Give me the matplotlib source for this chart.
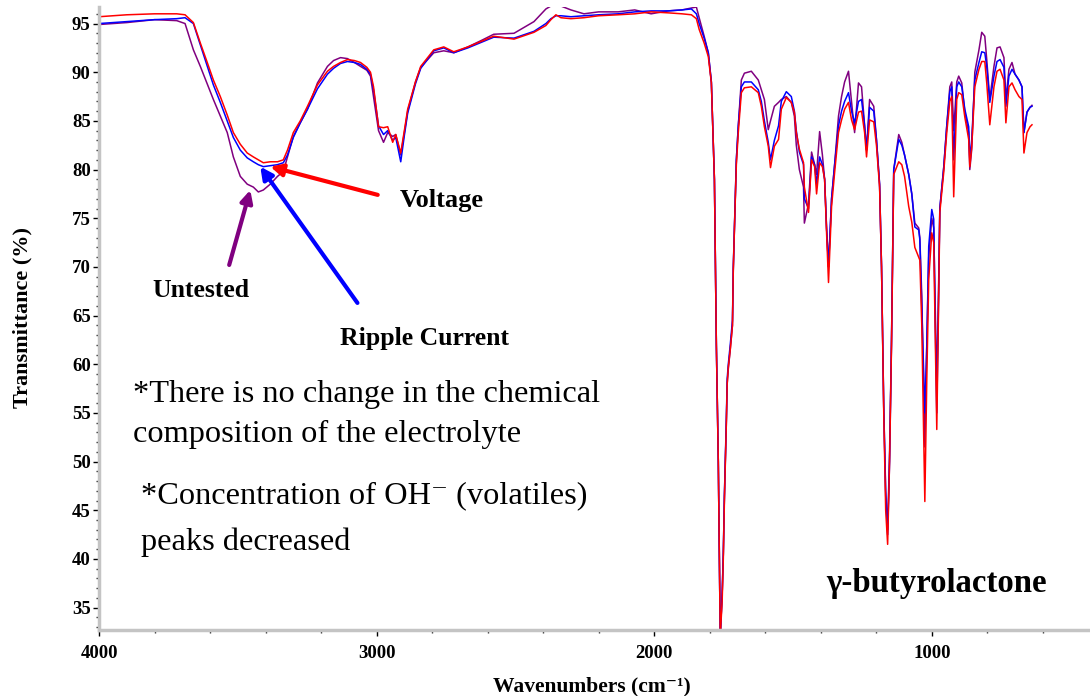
import matplotlib
matplotlib.use('Agg')
import matplotlib.pyplot as plt
from matplotlib.ticker import MultipleLocator

# ---------------- data ----------------
wavenumber = [
    4000, 3900, 3800, 3720, 3690, 3660, 3635, 3610, 3588, 3563,
    3538, 3516, 3491, 3466, 3444, 3426, 3408, 3383, 3357, 3336,
    3321, 3300, 3275, 3249, 3213, 3177, 3155, 3130, 3105, 3080,
    3058, 3035, 3022, 3011, 2993, 2975, 2960, 2942, 2931, 2913,
    2900, 2888, 2860, 2841, 2794, 2758, 2722, 2671, 2620, 2578,
    2505, 2433, 2390, 2372, 2354, 2336, 2300, 2253, 2200, 2130,
    2070, 2011, 1950, 1900, 1866, 1848, 1838, 1820, 1805, 1794,
    1783, 1776, 1769, 1765, 1762, 1755, 1751, 1747, 1740, 1737,
    1733, 1726, 1718, 1715, 1711, 1704, 1697, 1686, 1675, 1650,
    1625, 1614, 1603, 1589, 1581, 1567, 1552, 1542, 1524, 1506,
    1495, 1488, 1477, 1462, 1459, 1444, 1433, 1422, 1415, 1404,
    1394, 1386, 1379, 1372, 1361, 1350, 1336, 1325, 1314, 1300,
    1289, 1278, 1264, 1253, 1242, 1235, 1224, 1209, 1199, 1188,
    1181, 1173, 1166, 1159, 1152, 1145, 1137, 1119, 1108, 1098,
    1083, 1072, 1061, 1047, 1043, 1036, 1025, 1018, 1011, 1000,
    993, 989, 982, 976, 971, 957, 946, 935, 928, 921,
    910, 903, 892, 881, 867, 863, 856, 845, 830, 820,
    809, 802, 791, 776, 765, 754, 740, 733, 722, 711,
    700, 686, 675, 668, 657, 646, 639,
]

voltage = [
    95.7, 95.9, 96.0, 96.0, 95.9, 95.1, 93.0, 91.0, 89.2, 87.5,
    85.6, 83.8, 82.6, 81.7, 81.3, 81.0, 80.7, 80.8, 80.8, 81.0,
    82.0, 83.8, 85.0, 86.5, 88.7, 90.1, 90.6, 91.0, 91.3, 91.2,
    91.0, 90.5, 90.0, 88.5, 84.4, 84.3, 84.4, 82.8, 83.6, 81.7,
    84.0, 86.2, 89.0, 90.6, 92.3, 92.6, 92.1, 92.6, 93.2, 93.7,
    93.4, 94.1, 94.8, 95.4, 95.9, 95.6, 95.5, 95.6, 95.8, 95.9,
    96.0, 96.2, 96.1, 96.0, 95.9, 95.5, 94.4, 93.0, 91.6, 88.9,
    79.0, 62.0, 50.0, 40.0, 32.0, 35.8, 40.0, 46.0, 54.0, 58.0,
    59.7, 61.5, 64.0, 69.7, 73.8, 80.5, 83.8, 87.9, 88.4, 88.5,
    87.9, 86.5, 84.4, 82.4, 80.2, 82.4, 83.1, 86.2, 87.4, 86.9,
    85.9, 83.8, 82.1, 80.7, 78.2, 75.6, 81.0, 80.3, 77.5, 80.7,
    80.3, 79.0, 73.5, 68.4, 76.2, 79.7, 83.8, 85.1, 86.2, 86.9,
    85.1, 84.1, 85.9, 86.0, 83.8, 81.3, 85.1, 84.9, 82.4, 78.2,
    70.0, 55.0, 45.0, 41.5, 50.0, 62.0, 79.5, 80.8, 80.5, 79.3,
    76.2, 74.6, 72.0, 71.0, 70.7, 64.0, 45.9, 58.4, 68.7, 73.5,
    72.5, 65.3, 53.3, 65.0, 75.6, 79.7, 83.8, 87.0, 87.5, 77.2,
    87.2, 87.9, 87.7, 85.4, 83.1, 80.3, 82.4, 88.5, 90.3, 91.1,
    91.1, 88.9, 84.6, 88.5, 90.1, 90.3, 89.2, 84.8, 88.5, 88.9,
    88.2, 87.5, 87.2, 81.7, 83.8, 84.4, 84.6,
]

ripple_current = [
    95.0, 95.2, 95.4, 95.5, 95.6, 95.0, 92.8, 90.6, 88.7, 86.9,
    85.0, 83.3, 82.0, 81.2, 80.8, 80.5, 80.3, 80.4, 80.5, 80.7,
    81.5, 83.3, 84.8, 86.2, 88.3, 89.8, 90.4, 90.9, 91.1, 91.0,
    90.8, 90.3, 89.8, 88.2, 84.5, 83.6, 84.0, 83.0, 83.3, 80.8,
    83.5, 85.8, 88.8, 90.4, 92.2, 92.5, 92.0, 92.5, 93.1, 93.6,
    93.5, 94.2, 95.0, 95.5, 95.8, 95.8, 95.7, 95.8, 95.9, 96.0,
    96.2, 96.3, 96.3, 96.4, 96.5, 96.0, 95.0, 93.5, 92.0, 89.0,
    79.0, 62.0, 50.0, 40.0, 32.0, 36.5, 40.5, 46.5, 54.5, 58.5,
    60.0, 62.0, 64.5, 70.0, 74.0, 81.0, 84.5, 88.5, 89.0, 89.0,
    88.2, 87.0, 85.0, 82.8, 81.0, 83.0, 84.5, 87.0, 88.0, 87.5,
    86.0, 84.0, 81.8, 80.5, 77.0, 76.0, 81.3, 80.5, 78.5, 81.3,
    80.5, 79.0, 74.0, 70.0, 77.0, 80.5, 84.5, 86.0, 87.0, 87.9,
    86.0, 84.8, 87.0, 87.2, 84.5, 82.0, 86.4, 86.0, 83.0, 78.5,
    70.0, 55.5, 46.5, 42.5, 50.0, 62.5, 80.0, 83.1, 82.5, 81.5,
    79.5, 77.5, 74.1, 73.8, 72.8, 66.0, 55.0, 61.8, 72.1, 75.9,
    74.9, 67.0, 55.0, 66.0, 76.0, 80.2, 84.5, 88.0, 88.5, 81.0,
    88.5, 89.0, 88.5, 86.2, 84.4, 81.0, 83.1, 89.2, 91.0, 92.1,
    92.0, 90.6, 86.9, 89.6, 91.1, 91.3, 90.5, 86.5, 89.6, 90.3,
    89.8, 89.2, 88.5, 83.8, 85.9, 86.4, 86.5,
]

untested = [
    94.9, 95.1, 95.4, 95.3, 95.0, 92.3, 90.6, 88.8, 87.2, 85.5,
    83.8, 81.3, 79.3, 78.5, 78.2, 77.7, 77.9, 78.5, 79.3, 79.8,
    81.3, 83.4, 84.8, 86.2, 88.9, 90.6, 91.2, 91.5, 91.4, 91.0,
    90.6, 90.2, 89.6, 87.5, 84.0, 82.8, 83.8, 83.4, 83.6, 81.5,
    83.8, 86.0, 89.0, 90.5, 92.0, 92.2, 92.0, 92.6, 93.3, 93.9,
    94.0, 95.2, 96.5, 96.8, 96.8, 96.8, 96.4, 96.0, 96.2, 96.2,
    96.4, 96.0, 96.3, 96.4, 96.6, 96.7, 95.6, 93.7, 92.0, 89.0,
    79.0, 62.0, 50.0, 40.0, 32.0, 36.5, 40.5, 46.5, 54.0, 58.0,
    59.5, 61.5, 64.0, 69.7, 73.8, 81.0, 84.5, 89.2, 89.9, 90.1,
    89.2, 88.2, 87.2, 84.1, 85.0, 86.5, 86.9, 87.2, 87.5, 86.9,
    85.5, 82.5, 80.0, 78.2, 74.5, 76.5, 81.8, 80.5, 79.5, 83.9,
    81.5, 79.0, 74.0, 70.0, 77.0, 80.5, 85.5, 87.5, 89.0, 90.1,
    87.0, 83.8, 88.9, 88.5, 84.5, 82.0, 87.2, 86.5, 83.0, 78.5,
    70.0, 55.5, 47.0, 43.0, 51.0, 62.5, 80.0, 83.6, 82.8, 81.5,
    79.5, 77.5, 74.5, 74.0, 73.0, 67.0, 51.5, 62.0, 71.0, 75.0,
    74.0, 68.0, 57.7, 67.0, 76.0, 80.2, 84.5, 88.5, 89.0, 84.0,
    89.0, 89.6, 88.9, 85.9, 83.8, 80.0, 82.1, 90.0, 92.3, 94.1,
    93.7, 91.3, 87.2, 90.6, 92.5, 92.6, 91.5, 87.2, 90.3, 91.0,
    89.8, 89.2, 88.5, 83.8, 85.9, 86.4, 86.6,
]

series_names = ["Voltage", "Ripple Current", "Untested"]
x_ticks = [4000, 3000, 2000, 1000]
y_ticks = [35, 40, 45, 50, 55, 60, 65, 70, 75, 80, 85, 90, 95]

# ---------------- style ----------------
plt.rcParams['font.family'] = ['Liberation Serif', 'DejaVu Serif']
plt.rcParams['font.weight'] = 'bold'

W, H = 1090, 696
fig = plt.figure(figsize=(W / 100, H / 100), dpi=100)
ax = fig.add_axes([99 / W, 1 - 630 / H, 1 - 99 / W, (630 - 7) / H])

RED, BLUE, PURPLE = '#ff0000', '#0000ff', '#800080'
ax.plot(wavenumber, untested, color=PURPLE, lw=1.1)
ax.plot(wavenumber, ripple_current, color=BLUE, lw=1.1)
ax.plot(wavenumber, voltage, color=RED, lw=1.1)

ax.set_xlim(4000, 430)
ax.set_ylim(32.7, 96.7)

for s in ['top', 'right']:
    ax.spines[s].set_visible(False)
for s in ['left', 'bottom']:
    ax.spines[s].set_color('#c4c4c4')
    ax.spines[s].set_linewidth(2.5)

ax.set_xticks(x_ticks)
ax.set_yticks(y_ticks)
ax.xaxis.set_minor_locator(MultipleLocator(200))
ax.yaxis.set_minor_locator(MultipleLocator(1))
ax.tick_params(which='major', direction='out', length=4, width=1, color='black', labelsize=13.5)
ax.tick_params(which='minor', direction='out', length=2, width=1, color='#333333')
ax.tick_params(axis='y', which='major', pad=2)
ax.tick_params(axis='x', which='major', pad=7)

def ftext(px, py, s, **kw):
    fig.text(px / W, 1 - py / H, s, **kw)

ftext(22, 317, 'Transmittance (%)', rotation=90, ha='center', va='center', fontsize=16)
ftext(592, 691, 'Wavenumbers (cm⁻¹)', ha='center', va='baseline', fontsize=15.5)

ftext(400, 207, series_names[0], fontsize=19, ha='left', va='baseline')
ftext(340, 345, series_names[1], fontsize=18.5, ha='left', va='baseline')
ftext(152, 297, series_names[2], fontsize=18.5, ha='left', va='baseline')

ftext(133, 402, '*There is no change in the chemical', fontsize=23.3, fontweight='normal', va='baseline')
ftext(133, 442, 'composition of the electrolyte', fontsize=23.3, fontweight='normal', va='baseline')
ftext(141, 503, '*Concentration of OH⁻ (volatiles)', fontsize=23.3, fontweight='normal', va='baseline')
ftext(141, 550, 'peaks decreased', fontsize=23.3, fontweight='normal', va='baseline')

ftext(826, 592, 'γ-butyrolactone', fontsize=23.6, va='baseline')

def arrow(tip, tail, color):
    ax.annotate('', xy=tip, xytext=tail,
                arrowprops=dict(arrowstyle='-|>', color=color, lw=3,
                                mutation_scale=18, shrinkA=0, shrinkB=0))

arrow((3383, 80.3), (2996, 77.4), RED)
arrow((3419, 80.3), (3069, 66.3), BLUE)
arrow((3455, 77.9), (3531, 70.2), PURPLE)

fig.savefig('out.png', dpi=100)
